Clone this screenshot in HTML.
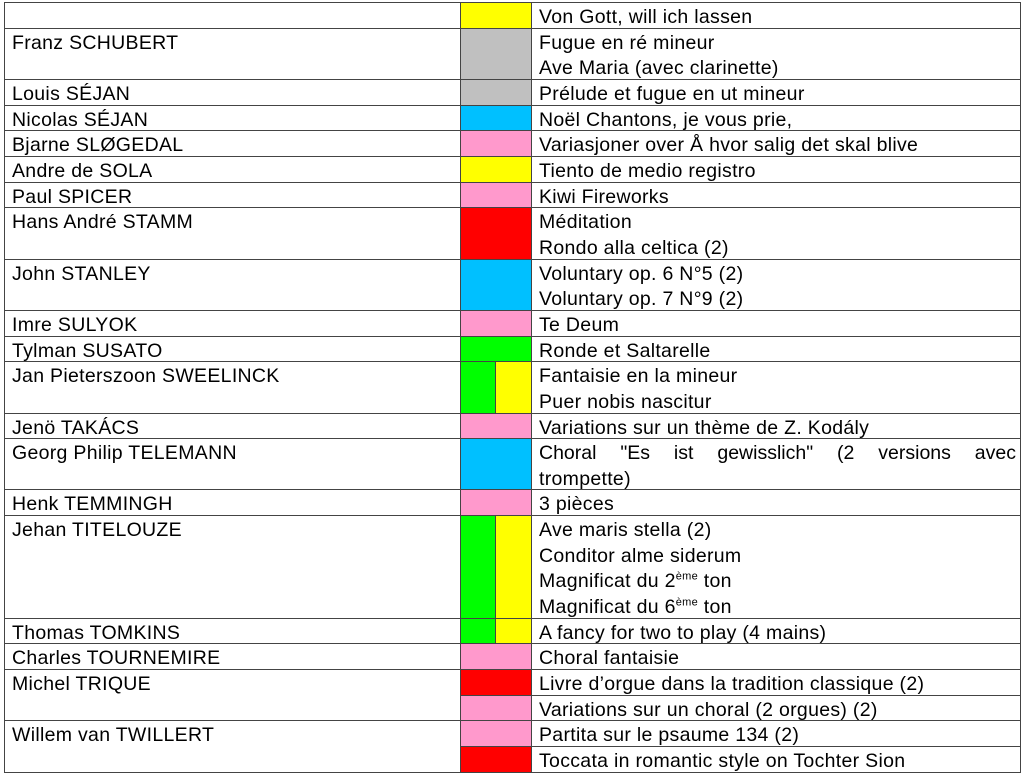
<!DOCTYPE html>
<html><head><meta charset="utf-8"><style>
html,body{margin:0;padding:0;background:#fff;width:1024px;height:778px;overflow:hidden}
.g{position:absolute;left:4px;top:2px;display:grid;grid-template-columns:456px 35px 36px 489px;grid-template-rows:repeat(30,25.67px);border-top:1.5px solid #444;border-left:1.5px solid #444;font-family:"Liberation Sans",sans-serif;font-size:19.5px;letter-spacing:0.3px;color:#000;line-height:25.67px}
.g>div{border-right:1.5px solid #444;border-bottom:1.5px solid #444;white-space:nowrap;overflow:hidden}
.t{padding-left:7px;padding-top:2px;box-sizing:border-box}
.y{background:#ffff00}.s{background:#c0c0c0}.b{background:#00c0ff}.p{background:#ff99cc}.gr{background:#00ff00}.r{background:#ff0000}
.c2{grid-column:2/4}.a{grid-column:2}.bb{grid-column:3}.n{grid-column:1}.x{grid-column:4}
sup{font-size:11px;line-height:0}
.j span{display:block;text-align:justify;text-align-last:justify;padding-right:4px;letter-spacing:0}
</style></head><body>
<div class="g">
<div class="n t" style="grid-row:1/2"></div><div class="c2 y" style="grid-row:1/2"></div><div class="x t" style="grid-row:1/2">Von Gott, will ich lassen</div>
<div class="n t" style="grid-row:2/4">Franz SCHUBERT</div><div class="c2 s" style="grid-row:2/4"></div><div class="x t" style="grid-row:2/4">Fugue en ré mineur<br>Ave Maria (avec clarinette)</div>
<div class="n t" style="grid-row:4/5">Louis SÉJAN</div><div class="c2 s" style="grid-row:4/5"></div><div class="x t" style="grid-row:4/5">Prélude et fugue en ut mineur</div>
<div class="n t" style="grid-row:5/6">Nicolas SÉJAN</div><div class="c2 b" style="grid-row:5/6"></div><div class="x t" style="grid-row:5/6">Noël Chantons, je vous prie,</div>
<div class="n t" style="grid-row:6/7">Bjarne SLØGEDAL</div><div class="c2 p" style="grid-row:6/7"></div><div class="x t" style="grid-row:6/7">Variasjoner over Å hvor salig det skal blive</div>
<div class="n t" style="grid-row:7/8">Andre de SOLA</div><div class="c2 y" style="grid-row:7/8"></div><div class="x t" style="grid-row:7/8">Tiento de medio registro</div>
<div class="n t" style="grid-row:8/9">Paul SPICER</div><div class="c2 p" style="grid-row:8/9"></div><div class="x t" style="grid-row:8/9">Kiwi Fireworks</div>
<div class="n t" style="grid-row:9/11">Hans André STAMM</div><div class="c2 r" style="grid-row:9/11"></div><div class="x t" style="grid-row:9/11">Méditation<br>Rondo alla celtica (2)</div>
<div class="n t" style="grid-row:11/13">John STANLEY</div><div class="c2 b" style="grid-row:11/13"></div><div class="x t" style="grid-row:11/13">Voluntary op. 6 N°5 (2)<br>Voluntary op. 7 N°9 (2)</div>
<div class="n t" style="grid-row:13/14">Imre SULYOK</div><div class="c2 p" style="grid-row:13/14"></div><div class="x t" style="grid-row:13/14">Te Deum</div>
<div class="n t" style="grid-row:14/15">Tylman SUSATO</div><div class="c2 gr" style="grid-row:14/15"></div><div class="x t" style="grid-row:14/15">Ronde et Saltarelle</div>
<div class="n t" style="grid-row:15/17">Jan Pieterszoon SWEELINCK</div><div class="a gr" style="grid-row:15/17"></div><div class="bb y" style="grid-row:15/17"></div><div class="x t" style="grid-row:15/17">Fantaisie en la mineur<br>Puer nobis nascitur</div>
<div class="n t" style="grid-row:17/18">Jenö TAKÁCS</div><div class="c2 p" style="grid-row:17/18"></div><div class="x t" style="grid-row:17/18">Variations sur un thème de Z. Kodály</div>
<div class="n t" style="grid-row:18/20">Georg Philip TELEMANN</div><div class="c2 b" style="grid-row:18/20"></div><div class="x t j" style="grid-row:18/20"><span>Choral "Es ist gewisslich" (2 versions avec</span>trompette)</div>
<div class="n t" style="grid-row:20/21">Henk TEMMINGH</div><div class="c2 p" style="grid-row:20/21"></div><div class="x t" style="grid-row:20/21">3 pièces</div>
<div class="n t" style="grid-row:21/25">Jehan TITELOUZE</div><div class="a gr" style="grid-row:21/25"></div><div class="bb y" style="grid-row:21/25"></div><div class="x t" style="grid-row:21/25">Ave maris stella (2)<br>Conditor alme siderum<br>Magnificat du 2<sup>ème</sup> ton<br>Magnificat du 6<sup>ème</sup> ton</div>
<div class="n t" style="grid-row:25/26">Thomas TOMKINS</div><div class="a gr" style="grid-row:25/26"></div><div class="bb y" style="grid-row:25/26"></div><div class="x t" style="grid-row:25/26">A fancy for two to play (4 mains)</div>
<div class="n t" style="grid-row:26/27">Charles TOURNEMIRE</div><div class="c2 p" style="grid-row:26/27"></div><div class="x t" style="grid-row:26/27">Choral fantaisie</div>
<div class="n t" style="grid-row:27/29">Michel TRIQUE</div><div class="c2 r" style="grid-row:27/28"></div><div class="x t" style="grid-row:27/28">Livre d’orgue dans la tradition classique (2)</div>
<div class="c2 p" style="grid-row:28/29"></div><div class="x t" style="grid-row:28/29">Variations sur un choral (2 orgues) (2)</div>
<div class="n t" style="grid-row:29/31">Willem van TWILLERT</div><div class="c2 p" style="grid-row:29/30"></div><div class="x t" style="grid-row:29/30">Partita sur le psaume 134 (2)</div>
<div class="c2 r" style="grid-row:30/31"></div><div class="x t" style="grid-row:30/31">Toccata in romantic style on Tochter Sion</div>
</div>
</body></html>
